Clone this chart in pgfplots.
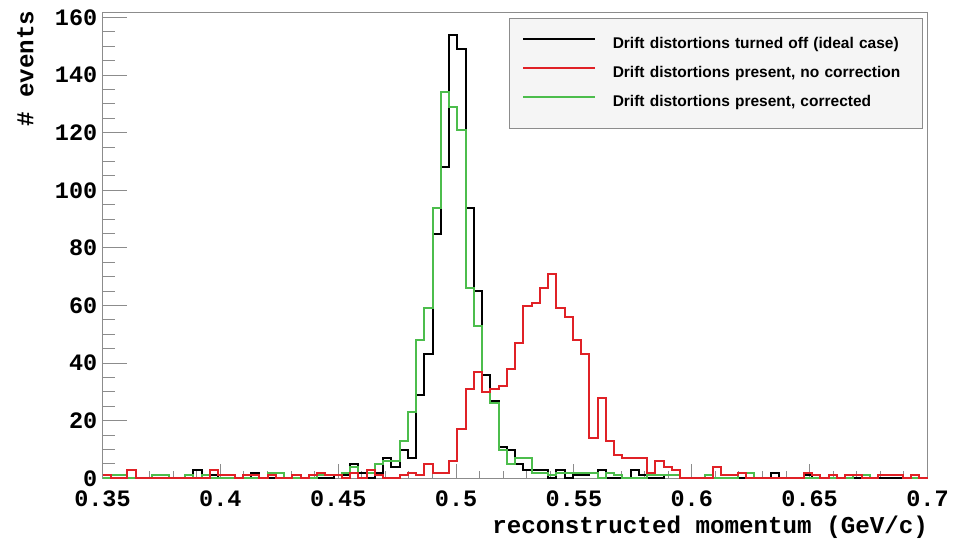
\documentclass[border=0pt]{standalone}
\usepackage{fontspec}
\setmainfont{Liberation Sans}
\newfontfamily\cour{Liberation Mono}
\usepackage{pgfplots}
\pgfplotsset{compat=1.18}
\usepackage{pgfplotstable}

\definecolor{histred}{rgb}{0.88,0.13,0.15}
\definecolor{histgreen}{rgb}{0.30,0.74,0.30}
\definecolor{framegray}{gray}{0.55}

\newcommand\tickfont{\cour\bfseries\fontsize{23.5}{26}\selectfont}
\newcommand\titlefont{\cour\bfseries\fontsize{24.2}{28}\selectfont}
\newcommand\legfont{\bfseries\fontsize{15.5}{18}\selectfont}

% bin left edges (width 0.0035), counts: b = ideal, r = uncorrected, g = corrected
\pgfplotstableread{
x      b   r   g
0.3500 1   1   0
0.3535 0   0   1
0.3570 0   0   1
0.3605 0   3   0
0.3640 0   0   0
0.3675 0   0   0
0.3710 1   0   1
0.3745 1   0   1
0.3780 0   0   0
0.3815 0   0   0
0.3850 0   0   1
0.3885 3   0   0
0.3920 0   0   1
0.3955 1   3   0
0.3990 0   1   0
0.4025 0   1   0
0.4060 0   0   0
0.4095 0   1   0
0.4130 2   1   0
0.4165 0   0   0
0.4200 0   1   2
0.4235 0   0   2
0.4270 0   0   0
0.4305 1   1   0
0.4340 0   0   0
0.4375 0   1   0
0.4410 0   2   1
0.4445 0   1   1
0.4480 1   1   1
0.4515 1   0   2
0.4550 5   2   4
0.4585 2   0   0
0.4620 0   3   2
0.4655 2   1   5
0.4690 7   0   6
0.4725 4   0   6
0.4760 10  1   13
0.4795 7   2   23
0.4830 29  1   48
0.4865 43  5   59
0.4900 85  2   94
0.4935 108 2   134
0.4970 154 6   129
0.5005 149 17  121
0.5040 94  31  66
0.5075 65  37  53
0.5110 36  30  30
0.5145 27  31  26
0.5180 11  32  10
0.5215 10  38  5
0.5250 5   47  7
0.5285 3   60  7
0.5320 3   61  2
0.5355 3   66  2
0.5390 0   71  1
0.5425 3   59  2
0.5460 0   56  2
0.5495 1   48  2
0.5530 1   43  2
0.5565 2   14  2
0.5600 3   28  0
0.5635 0   13  2
0.5670 0   8   1
0.5705 0   7   0
0.5740 3   7   0
0.5775 1   7   0
0.5810 0   2   1
0.5845 0   6   1
0.5880 1   4   1
0.5915 1   3   1
0.5950 0   0   0
0.5985 0   0   0
0.6020 0   0   0
0.6055 0   0   1
0.6090 0   4   0
0.6125 0   1   0
0.6160 0   1   0
0.6195 0   2   2
0.6230 0   0   2
0.6265 0   0   0
0.6300 0   0   0
0.6335 2   0   0
0.6370 0   0   0
0.6405 0   0   0
0.6440 0   0   0
0.6475 1   2   0
0.6510 0   1   0
0.6545 0   0   0
0.6580 0   1   0
0.6615 0   0   0
0.6650 0   1   0
0.6685 0   1   1
0.6720 0   0   1
0.6755 0   0   0
0.6790 0   1   1
0.6825 0   1   1
0.6860 0   1   1
0.6895 0   0   0
0.6930 0   1   0
0.6965 0   0   0
0.7000 0   0   0
}\histdata

\begin{document}
\begin{tikzpicture}
\useasboundingbox (0pt,0pt) rectangle (958pt,541pt);
\begin{axis}[
    at={(102.5pt,62.7pt)}, anchor=south west,
    scale only axis, width=825pt, height=465.6pt,
    xmin=0.35, xmax=0.7, ymin=0, ymax=161.7,
    clip=false,
    xtick={0.35,0.4,0.45,0.5,0.55,0.6,0.65,0.7},
    xticklabels={0.35,0.4,0.45,0.5,0.55,0.6,0.65,0.7},
    ytick={0,20,...,160},
    minor x tick num=4, minor y tick num=3,
    tick pos=left, tick align=inside,
    xtick style={/pgfplots/major tick length=14pt, /pgfplots/minor tick length=7pt},
    ytick style={/pgfplots/major tick length=24pt, /pgfplots/minor tick length=12pt},
    every tick/.append style={framegray, line width=1pt},
    axis line style={framegray, line width=1pt},
    /pgf/number format/assume math mode=true,
    ticklabel style={font=\tickfont},
    xticklabel style={inner sep=0pt, yshift=-12.5pt},
    yticklabel style={inner sep=0pt, xshift=-5pt},
    xlabel={reconstructed momentum (GeV/c)},
    ylabel={\# events},
    label style={font=\titlefont},
    xlabel style={at={(1,0)}, anchor=base east, yshift=-54.7pt, xshift=4pt},
    ylabel style={at={(-0.0839,1.012)}, anchor=base east},
    legend entries={{Drift distortions turned off (ideal case)},
                    {Drift distortions present, no correction},
                    {Drift distortions present, corrected}},
    legend cell align=left,
    legend image code/.code={\draw[#1] (0pt,5.5pt) -- (72pt,5.5pt);},
    legend style={at={(0.9945,0.9886)}, anchor=north east,
        draw=framegray, fill=black!4, line width=1pt,
        inner xsep=13.3pt, inner ysep=18.3pt,
        row sep=14.6pt, column sep=16.3pt, font=\legfont,
        nodes={inner sep=0pt, text height=11.3pt, text depth=3.3pt, text width=296.4pt}},
]
\addlegendimage{black, line width=2pt}
\addlegendimage{histred, line width=2pt}
\addlegendimage{histgreen, line width=2pt}

\addplot[black, line width=2pt, const plot, forget plot] table[x=x, y=b] {\histdata};
\addplot[histgreen, line width=2pt, const plot, forget plot] table[x=x, y=g] {\histdata};
\addplot[histred, line width=2pt, const plot, forget plot] table[x=x, y=r] {\histdata};
\end{axis}
\end{tikzpicture}
\end{document}
